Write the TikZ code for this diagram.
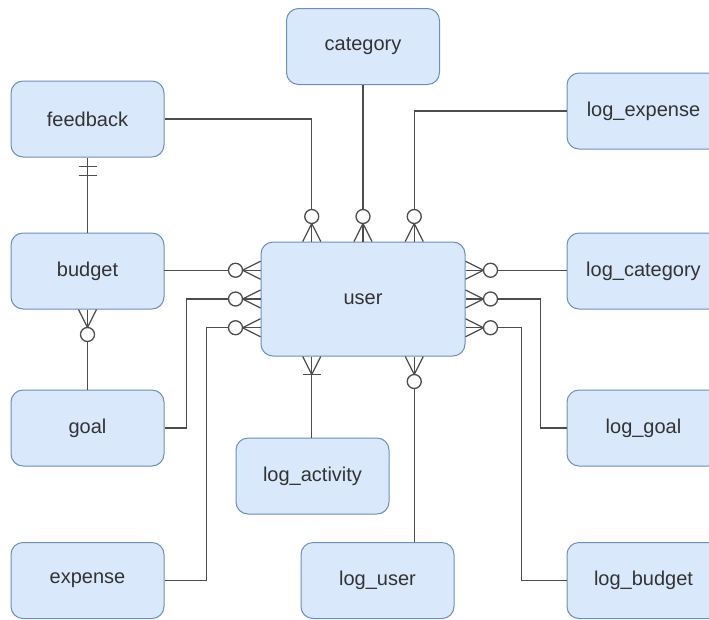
\documentclass[tikz,border=0pt]{standalone}
\usepackage{fontspec}
\setmainfont{Liberation Sans}
\usetikzlibrary{calc}
\definecolor{boxfill}{HTML}{DAE8FC}
\definecolor{boxline}{HTML}{6C8EBF}
\definecolor{txt}{HTML}{333333}
\definecolor{conn}{HTML}{4D4D4D}
\tikzset{
  entity/.style={draw=boxline, fill=boxfill, line width=1pt, rounded corners=12pt,
    minimum width=153pt, minimum height=76pt, inner sep=0pt, text=txt,
    font=\fontsize{20}{24}\selectfont},
  rel/.style={draw=conn, line width=1.3pt},
  zmany/.pic={
    \draw[conn, line width=1.3pt] (0pt,-9pt) -- (18pt,0pt) -- (0pt,9pt);
    \draw[conn, line width=1.3pt] (0pt,0pt) -- (18pt,0pt);
    \draw[conn, line width=1.3pt, fill=white] (25pt,0pt) circle (7pt);
  },
  omany/.pic={
    \draw[conn, line width=1.3pt] (0pt,-9pt) -- (18pt,0pt) -- (0pt,9pt);
    \draw[conn, line width=1.3pt] (0pt,0pt) -- (18pt,0pt);
    \draw[conn, line width=1.3pt] (18pt,-9pt) -- (18pt,9pt);
  },
  oone/.pic={
    \draw[conn, line width=1.3pt] (9pt,-9pt) -- (9pt,9pt);
    \draw[conn, line width=1.3pt] (18pt,-9pt) -- (18pt,9pt);
  }
}
\begin{document}
\begin{tikzpicture}[x=1pt, y=-1pt]
\useasboundingbox (0,0) rectangle (709,619);
\clip (0,0) rectangle (709,619);
% entities
\node[entity] (category) at (363,46.5) {category};
\node[entity] (feedback) at (87.5,119) {feedback};
\node[entity] (logexpense) at (643.5,111) {log\_expense};
\node[entity] (budget) at (87.5,271) {budget};
\node[entity, minimum width=204pt, minimum height=114pt] (user) at (363,299) {user};
\node[entity] (logcategory) at (643.5,271) {log\_category};
\node[entity] (goal) at (87.5,428) {goal};
\node[entity] (loggoal) at (643.5,428) {log\_goal};
\node[entity] (logactivity) at (312.5,476) {log\_activity};
\node[entity] (expense) at (87.5,580.5) {expense};
\node[entity] (loguser) at (377.5,580.5) {log\_user};
\node[entity] (logbudget) at (643.5,580.5) {log\_budget};
% attachment points on user
\coordinate (uN1) at ($(user.north west)!0.25!(user.north east)$);
\coordinate (uN3) at ($(user.north west)!0.75!(user.north east)$);
\coordinate (uS1) at ($(user.south west)!0.25!(user.south east)$);
\coordinate (uS3) at ($(user.south west)!0.75!(user.south east)$);
\coordinate (uW1) at ($(user.north west)!0.25!(user.south west)$);
\coordinate (uW2) at ($(user.north west)!0.5!(user.south west)$);
\coordinate (uW3) at ($(user.north west)!0.75!(user.south west)$);
\coordinate (uE1) at ($(user.north east)!0.25!(user.south east)$);
\coordinate (uE2) at ($(user.north east)!0.5!(user.south east)$);
\coordinate (uE3) at ($(user.north east)!0.75!(user.south east)$);
% connectors
\draw[rel] (category.south) -- (user.north);
\draw[rel] (feedback.east) -| (uN1);
\draw[rel] (logexpense.west) -| (uN3);
\draw[rel] (budget.east) -- (budget.east |- uW1) -- (uW1);
\draw[rel] (goal.east) -- ++(22,0) |- (uW2);
\draw[rel] (expense.east) -- ++(42,0) |- (uW3);
\draw[rel] (logcategory.west |- uE1) -- (uE1);
\draw[rel] (loggoal.west) -- ++(-26,0) |- (uE2);
\draw[rel] (logbudget.west) -- ++(-45,0) |- (uE3);
\draw[rel] (logactivity.north -| uS1) -- (uS1);
\draw[rel] (loguser.north -| uS3) -- (uS3);
\draw[rel] (budget.north) -- (feedback.south);
\draw[rel] (budget.south) -- (goal.north);
% markers
\pic[rotate=90] at (uN1) {zmany};
\pic[rotate=90] at (user.north) {zmany};
\pic[rotate=90] at (uN3) {zmany};
\pic[rotate=180] at (uW1) {zmany};
\pic[rotate=180] at (uW2) {zmany};
\pic[rotate=180] at (uW3) {zmany};
\pic at (uE1) {zmany};
\pic at (uE2) {zmany};
\pic at (uE3) {zmany};
\pic[rotate=-90] at (uS1) {omany};
\pic[rotate=-90] at (uS3) {zmany};
\pic[rotate=-90] at (budget.south) {zmany};
\pic[rotate=-90] at (feedback.south) {oone};
\end{tikzpicture}
\end{document}
